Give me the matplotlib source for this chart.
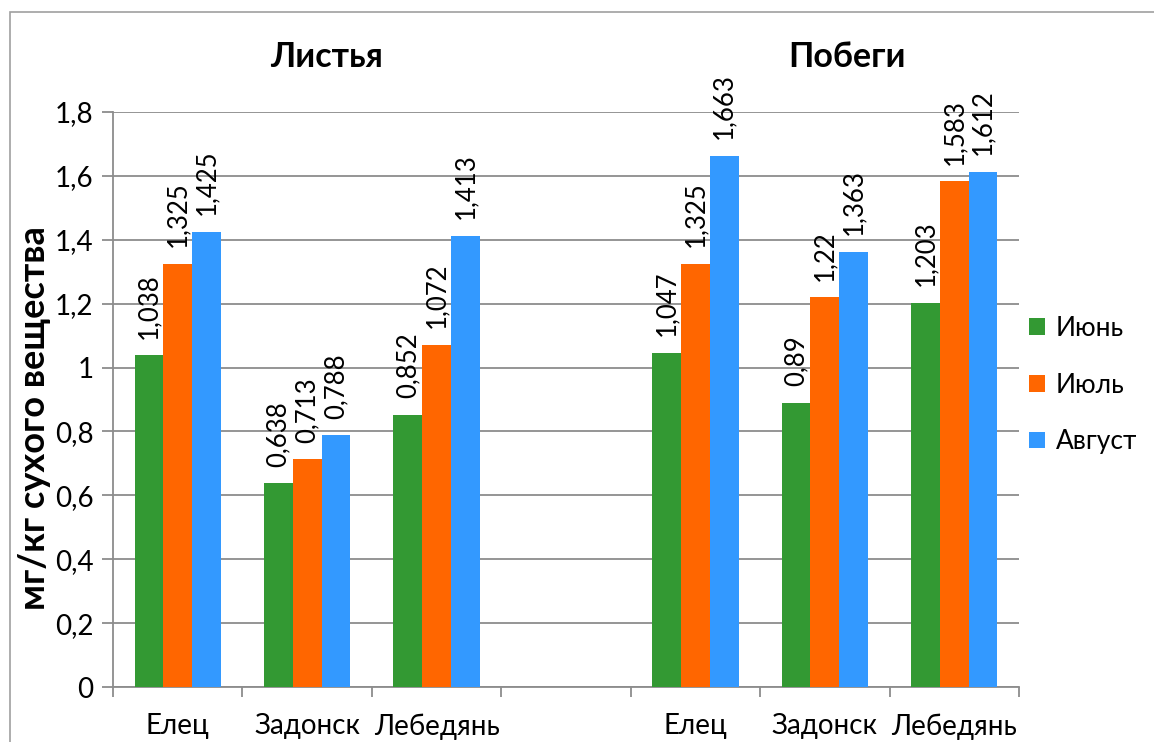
import matplotlib
matplotlib.use("Agg")
import matplotlib.pyplot as plt
import numpy as np
from matplotlib.patches import Rectangle
from matplotlib.ticker import FuncFormatter, FixedLocator

plt.rcParams["font.family"] = ["Lato", "DejaVu Sans"]

# Категории по оси X: листья, пустой промежуток, побеги
categories = ["Елец", "Задонск", "Лебедянь", "", "Елец", "Задонск", "Лебедянь"]
months = ["Июнь", "Июль", "Август"]
june = [1.038, 0.638, 0.852, None, 1.047, 0.89, 1.203]
july = [1.325, 0.713, 1.072, None, 1.325, 1.22, 1.583]
august = [1.425, 0.788, 1.413, None, 1.663, 1.363, 1.612]
colors = ["#339933", "#FF6600", "#3399FF"]
panel_titles = ["Листья", "Побеги"]


def fmt(v):
    return f"{v:g}".replace(".", ",")


fig = plt.figure(figsize=(11.54, 7.42), dpi=100)
ax = fig.add_axes([113 / 1154, 55 / 742, 906 / 1154, 575 / 742])

x = np.arange(len(categories))
width = 0.222
for i, (series, name, col) in enumerate(zip([june, july, august], months, colors)):
    xs = [xi for xi, v in zip(x, series) if v is not None]
    vals = [v for v in series if v is not None]
    pos = np.array(xs) + (i - 1) * width
    ax.bar(pos, vals, width=width, color=col, label=name, zorder=3)
    for px, v in zip(pos, vals):
        ax.annotate(fmt(v), (px, v), xytext=(0, 12), textcoords="offset points",
                    rotation=90, ha="center", va="bottom", fontsize=18.5)

ax.set_xlim(-0.5, len(categories) - 0.5)
ax.set_ylim(0, 1.8)
ax.set_yticks(np.arange(0, 1.81, 0.2))
ax.yaxis.set_major_formatter(FuncFormatter(lambda v, _: fmt(round(v, 1))))
ax.yaxis.grid(True, color="#8c8c8c", linewidth=1.3, zorder=0)

ax.set_xticks(x)
ax.set_xticklabels(categories, fontsize=20)
ax.xaxis.set_minor_locator(FixedLocator(np.arange(-0.5, len(categories), 1.0)))
ax.tick_params(axis="x", which="major", length=0, pad=19)
ax.tick_params(axis="x", which="minor", length=7, width=1.3, color="#8c8c8c")
ax.tick_params(axis="y", length=8, width=1.3, color="#8c8c8c", labelsize=20, pad=6)

for side in ["top", "right"]:
    ax.spines[side].set_visible(False)
for side in ["left", "bottom"]:
    ax.spines[side].set_color("#8c8c8c")
    ax.spines[side].set_linewidth(1.3)

ax.set_ylabel("мг/кг сухого вещества", fontsize=26, fontweight="bold")
ax.yaxis.set_label_coords(-62 / 906, 0.468)

fig.text(327 / 1154, 1 - 57 / 742, panel_titles[0], fontsize=24.5, fontweight="bold",
         ha="center", va="center")
fig.text(847 / 1154, 1 - 57 / 742, panel_titles[1], fontsize=24.5, fontweight="bold",
         ha="center", va="center")

ax.legend(loc="center left", bbox_to_anchor=(0.994, 0.525), frameon=False, fontsize=19,
          handlelength=0.6, handleheight=0.6, labelspacing=1.2, handletextpad=0.4,
          borderaxespad=0.2)

fig.patches.append(Rectangle((10 / 1154, -0.01), 1.2, 1 - 12 / 742 + 0.01,
                             transform=fig.transFigure, fill=False,
                             edgecolor="#a0a0a0", linewidth=1.2))

fig.savefig("out.png", dpi=100)
